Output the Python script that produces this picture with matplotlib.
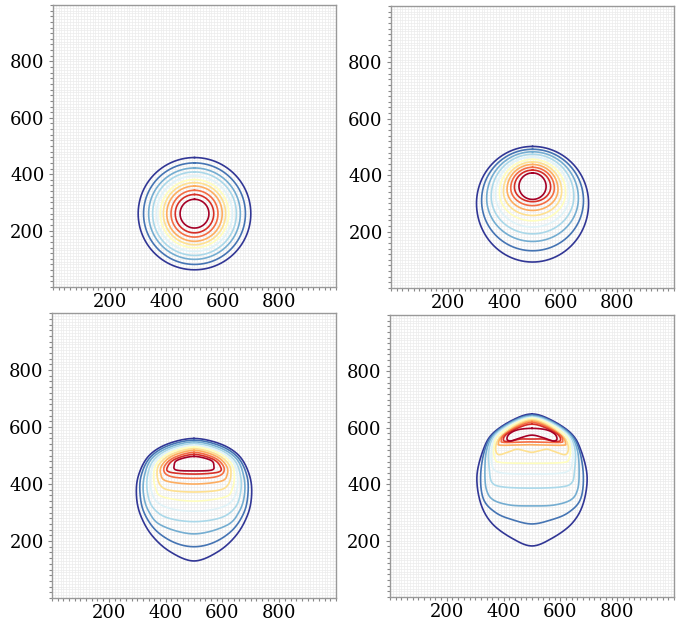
import numpy as np
import matplotlib
matplotlib.use("Agg")
import matplotlib.pyplot as plt
from matplotlib.ticker import MultipleLocator, FixedLocator

plt.rc('font', family='DejaVu Serif', size=13)

cx = 500.0

# panel 1: concentric circles (radius of each contour, outermost first)
p1_center = 260.0
p1_radius = [199, 180, 162, 148, 134, 121, 110, 98, 83, 68, 51]

# panel 2: egg shapes, one entry per contour (outermost first)
p2_top    = [502, 492, 483, 474, 465, 456, 447, 438, 428, 418, 408]
p2_bottom = [ 92, 132, 165, 192, 216, 238, 257, 275, 292, 306, 314]
p2_halfw  = [198, 180, 162, 146, 131, 117, 103,  90,  77,  64,  48]
p2_widest = [300, 310, 318, 325, 332, 338, 343, 349, 354, 358, 360]

# panels 3 and 4: right half of each contour, (offset from x=500, y), top to bottom
p3_profiles = [
    [(0, 560), (95, 540), (160, 498), (195, 432), (203, 365), (190, 295), (150, 222), (85, 163), (0, 130)],
    [(0, 554), (93, 534), (155, 493), (186, 430), (190, 365), (176, 300), (135, 238), (70, 195), (0, 180)],
    [(0, 548), (90, 528), (150, 488), (175, 428), (178, 365), (160, 305), (115, 255), (0, 225)],
    [(0, 542), (88, 522), (143, 483), (164, 428), (164, 370), (145, 318), (95, 282), (0, 268)],
    [(0, 536), (85, 517), (137, 478), (153, 428), (150, 375), (128, 335), (75, 312), (0, 305)],
    [(0, 530), (82, 511), (130, 474), (142, 430), (135, 385), (110, 355), (0, 340)],
    [(0, 524), (78, 505), (122, 470), (130, 432), (118, 395), (85, 378), (0, 372)],
    [(0, 518), (75, 499), (113, 466), (117, 434), (95, 410), (0, 400)],
    [(0, 511), (70, 493), (103, 464), (102, 438), (70, 424), (0, 420)],
    [(0, 504), (65, 488), (92, 463), (86, 442), (0, 435)],
    [(0, 497), (58, 484), (70, 465), (62, 449), (0, 446)],
]

p4_profiles = [
    [(0, 649), (67, 628), (138, 580), (172, 521), (194, 427), (180, 330), (140, 260), (70, 208), (0, 181)],
    [(0, 645), (66, 625), (136, 578), (167, 520), (181, 427), (170, 345), (126, 298), (66, 273), (0, 259)],
    [(0, 642), (65, 623), (133, 576), (160, 520), (166, 440), (160, 379), (136, 344), (77, 326), (0, 323)],
    [(0, 639), (64, 620), (130, 574), (152, 520), (150, 450), (140, 405), (100, 390), (0, 386)],
    [(0, 636), (62, 617), (126, 572), (143, 520), (141, 470), (128, 447), (90, 438), (0, 436)],
    [(0, 633), (60, 614), (121, 570), (135, 525), (130, 490), (110, 477), (0, 474)],
    [(0, 628), (55, 610), (112, 568), (128, 530), (118, 505), (81, 515), (54, 524), (28, 519), (0, 513)],
    [(0, 624), (52, 607), (105, 570), (118, 545), (105, 538), (0, 540)],
    [(0, 619), (50, 604), (98, 575), (108, 555), (95, 548), (0, 550)],
    [(0, 613), (48, 600), (92, 575), (100, 555), (80, 552), (40, 560), (0, 560)],
    [(0, 598), (50, 593), (80, 578), (88, 560), (75, 553), (45, 563), (0, 574)],
]

colors = plt.cm.RdYlBu_r(np.linspace(0, 1, 11))


def smooth_closed(pts, n=24):
    # periodic Catmull-Rom through the given vertices
    P = np.asarray(pts, dtype=float)
    N = len(P)
    t = np.linspace(0, 1, n, endpoint=False)[:, None]
    out = []
    for i in range(N):
        p0, p1, p2, p3 = P[i - 1], P[i], P[(i + 1) % N], P[(i + 2) % N]
        out.append(0.5 * (2 * p1 + (-p0 + p2) * t
                          + (2 * p0 - 5 * p1 + 4 * p2 - p3) * t ** 2
                          + (-p0 + 3 * p1 - 3 * p2 + p3) * t ** 3))
    out = np.vstack(out)
    return np.vstack([out, out[:1]])


def mirror(profile):
    right = [(cx + dx, y) for dx, y in profile]
    left = [(cx - dx, y) for dx, y in reversed(profile[1:-1])]
    return right + left


def style(ax):
    for v in np.arange(0, 1001, 10):
        ax.axvline(v, color='#ececec', lw=0.5, zorder=0)
        ax.axhline(v, color='#ececec', lw=0.5, zorder=0)
    ax.set_xlim(0, 1000)
    ax.set_ylim(0, 1000)
    ax.xaxis.set_major_locator(FixedLocator([200, 400, 600, 800]))
    ax.yaxis.set_major_locator(FixedLocator([200, 400, 600, 800]))
    ax.xaxis.set_minor_locator(MultipleLocator(20))
    ax.yaxis.set_minor_locator(MultipleLocator(20))
    ax.tick_params(which='both', direction='out', color='#888888', width=0.8)
    ax.tick_params(axis='x', which='major', pad=1)
    ax.tick_params(axis='y', which='major', pad=3)
    ax.tick_params(which='major', length=3)
    ax.tick_params(which='minor', length=2.5)
    for s in ax.spines.values():
        s.set_color('#999999')
        s.set_linewidth(1.0)


fig = plt.figure(figsize=(6.81, 6.22), dpi=100)
ax1 = fig.add_axes([0.0778, 0.5386, 0.4156, 0.4534])
ax2 = fig.add_axes([0.5742, 0.5370, 0.4156, 0.4534])
ax3 = fig.add_axes([0.0764, 0.0386, 0.4170, 0.4580])
ax4 = fig.add_axes([0.5727, 0.0402, 0.4170, 0.4534])

lw = 1.2
th = np.linspace(0, 2 * np.pi, 400)

for r, c in zip(p1_radius, colors):
    ax1.plot(cx + r * np.sin(th), p1_center + r * np.cos(th), color=c, lw=lw)

for top, bot, hw, mid, c in zip(p2_top, p2_bottom, p2_halfw, p2_widest, colors):
    ys = np.where(np.cos(th) > 0, mid + (top - mid) * np.cos(th), mid + (mid - bot) * np.cos(th))
    ax2.plot(cx + hw * np.sin(th), ys, color=c, lw=lw)

for ax, profiles in [(ax3, p3_profiles), (ax4, p4_profiles)]:
    for prof, c in zip(profiles, colors):
        xy = smooth_closed(mirror(prof))
        ax.plot(xy[:, 0], xy[:, 1], color=c, lw=lw)

for ax in [ax1, ax2, ax3, ax4]:
    style(ax)

plt.savefig('out.png', dpi=100)
